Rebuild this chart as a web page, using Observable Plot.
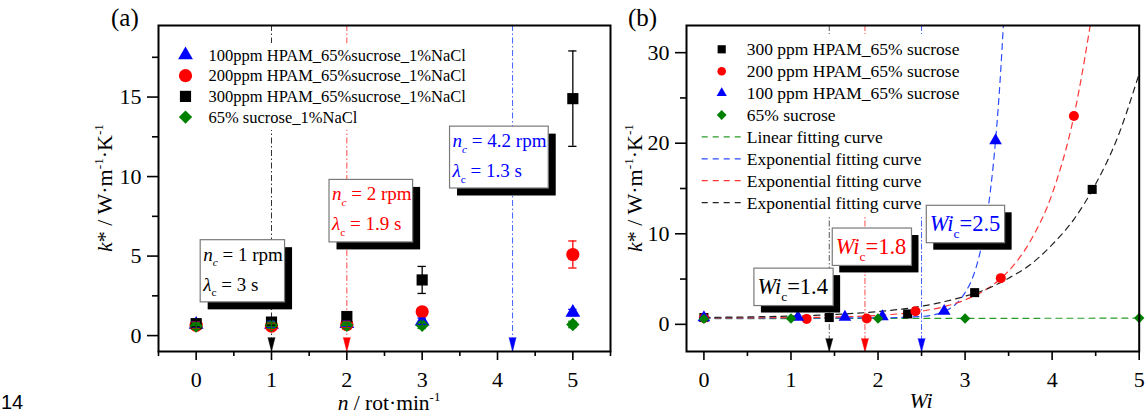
<!DOCTYPE html>
<html><head><meta charset="utf-8">
<script src="https://cdn.jsdelivr.net/npm/d3@7"></script>
<script src="https://cdn.jsdelivr.net/npm/@observablehq/plot@0.6"></script>
<style>
html,body{margin:0;padding:0;background:#fff;}
#wrap{position:relative;width:1146px;height:414px;overflow:hidden;background:#fff;}
#wrap svg{position:absolute;top:0;overflow:visible;}
text{white-space:pre;}
</style></head><body><div id="wrap"></div>
<script>
// ---------------- Panel (a) data ----------------
const nA = [0, 1, 2, 3, 5];
const kA_100 = [0.7, 0.7, 0.75, 0.9, 1.45];
const errA_100 = [0.2, 0.2, 0.2, 0.2, 0.2];
const kA_200 = [0.65, 0.6, 0.7, 1.5, 5.1];
const errA_200 = [0.2, 0.2, 0.2, 0.2, 0.85];
const kA_300 = [0.75, 0.85, 1.2, 3.5, 14.9];
const errA_300 = [0.2, 0.2, 0.2, 0.85, 3.0];
const kA_0 = [0.6, 0.65, 0.65, 0.65, 0.7];
const errA_0 = [0.2, 0.2, 0.2, 0.2, 0.2];
const legendA = ["100ppm HPAM_65%sucrose_1%NaCl", "200ppm HPAM_65%sucrose_1%NaCl", "300ppm HPAM_65%sucrose_1%NaCl", "65% sucrose_1%NaCl"];
const ncA = [1, 2, 4.2];
const ncTextA = ["1", "2", "4.2"];
const lamTextA = ["3", "1.9", "1.3"];
const xTicksA = [0, 1, 2, 3, 4, 5];
const xMinorA = [-0.5, 0.5, 1.5, 2.5, 3.5, 4.5, 5.5];
const yTicksA = [0, 5, 10, 15];
const yMinorA = [2.5, 7.5, 12.5, 17.5];

// ---------------- Panel (b) data ----------------
const wi300 = [0, 1.44, 2.34, 3.11, 4.46];
const k300 = [0.75, 0.75, 1.15, 3.5, 14.9];
const wi200 = [0, 1.18, 1.87, 2.43, 3.41, 4.25];
const k200 = [0.7, 0.6, 0.65, 1.45, 5.1, 23.0];
const wi100 = [0, 1.08, 1.62, 2.05, 2.76, 3.35];
const k100 = [0.75, 0.8, 0.8, 0.85, 1.45, 20.3];
const wi0 = [0, 1, 2, 3, 5];
const k0 = [0.6, 0.65, 0.65, 0.65, 0.7];
// fitted curves, values
const fitLinX = [0, 5];
const fitLinY = [0.63, 0.68];
const fit100X = [0, 1, 2, 2.5, 2.77, 2.9, 3.0, 3.1, 3.2, 3.3, 3.35, 3.4, 3.45];
const fit100Y = [0.68, 0.7, 0.71, 0.87, 1.47, 2.3, 3.5, 5.5, 9.2, 15.5, 20.3, 26.6, 34.8];
const fit200X = [0, 1, 1.5, 2, 2.5, 2.75, 3, 3.25, 3.5, 3.75, 4, 4.25, 4.5];
const fit200Y = [0.71, 0.74, 0.81, 0.99, 1.46, 1.93, 2.7, 3.9, 5.9, 9.2, 14.4, 23.0, 36.8];
const fit300X = [0, 0.5, 1, 1.5, 2, 2.5, 3, 3.25, 3.5, 3.75, 4, 4.25, 4.5, 4.75, 5];
const fit300Y = [0.76, 0.82, 0.91, 1.09, 1.41, 2.0, 3.1, 3.9, 5.1, 6.6, 8.8, 11.6, 15.5, 20.6, 27.7];
const legendBSym = ["300 ppm HPAM_65% sucrose", "200 ppm HPAM_65% sucrose", "100 ppm HPAM_65% sucrose", "65% sucrose"];
const legendBLine = ["Linear fitting curve", "Exponential fitting curve", "Exponential fitting curve", "Exponential fitting curve"];
const wiC = [1.44, 1.85, 2.5];
const wiCText = ["1.4", "1.8", "2.5"];
const xTicksB = [0, 1, 2, 3, 4, 5];
const xMinorB = [0.5, 1.5, 2.5, 3.5, 4.5];
const yTicksB = [0, 10, 20, 30];
const yMinorB = [5, 15, 25];

// ---------------- styles / layout ----------------
const F = '"Liberation Serif","Times New Roman",Times,serif';
const BLUE = "#0000ff", RED = "#ff0000", GREEN = "#008000", BLACK = "#000000";
const critLineA = ["#333333", "#ff4a4a", "#4060ff"];
const critArrowA = [BLACK, RED, BLUE];
const critTextA = [BLACK, RED, BLUE];
const boxA = [[0.06, 1.18, 2.09, 6.0], [1.77, 2.88, 5.86, 9.79], [3.37, 4.68, 9.25, 13.14]];
const critLineB = ["#555555", "#ff4a4a", "#4060ff"];
const critArrowB = [BLACK, RED, BLUE];
const boxB = [[0.58, 1.49, 2.02, 6.15], [1.48, 2.39, 6.45, 10.58], [2.56, 3.46, 8.96, 13.09]];

function series(xs, ys, es) { return xs.map((x, i) => ({x, y: ys[i], e: es ? es[i] : 0})); }
function errorMarks(data, color, half) {
  return [
    Plot.ruleX(data, {x: "x", y1: d => d.y - d.e, y2: d => d.y + d.e, stroke: color, strokeWidth: 1.3}),
    Plot.ruleY(data, {y: d => d.y + d.e, x1: d => d.x - half, x2: d => d.x + half, stroke: color, strokeWidth: 1.3}),
    Plot.ruleY(data, {y: d => d.y - d.e, x1: d => d.x - half, x2: d => d.x + half, stroke: color, strokeWidth: 1.3})
  ];
}
function axes(xt, xm, yt, ym) {
  return [
    Plot.axisX({ticks: xt, tickSize: 9, tickPadding: 11, label: null, tickFormat: d => String(d), strokeWidth: 1.6}),
    Plot.axisX({ticks: xm, tickSize: 5, label: null, tickFormat: () => "", strokeWidth: 1.6}),
    Plot.axisY({ticks: yt, tickSize: 11, tickPadding: 6, label: null, tickFormat: d => String(d), strokeWidth: 1.6}),
    Plot.axisY({ticks: ym, tickSize: 6, label: null, tickFormat: () => "", strokeWidth: 1.6}),
    Plot.frame({stroke: "black", strokeWidth: 2})
  ];
}
const SYM = {triangle: d3.symbolTriangle, circle: d3.symbolCircle, square: d3.symbolSquare, diamond2: d3.symbolDiamond2};

function txt(g, x, y, s, size, extra) {
  const t = g.append("text").attr("x", x).attr("y", y).attr("font-family", F).attr("font-size", size)
    .attr("fill", "black").attr("text-anchor", "start").text(s);
  if (extra) for (const k in extra) t.attr(k, extra[k]);
  return t;
}
function rich(g, x, y, parts, o) {
  const t = g.append("text").attr("x", x).attr("y", y).attr("font-family", F)
    .attr("font-size", o.size).attr("fill", o.color || "black").attr("text-anchor", o.anchor || "start");
  if (o.rotate) t.attr("transform", `rotate(${o.rotate},${x},${y})`);
  let shift = 0;
  for (const p of parts) {
    const s = p.sub ? o.size * 0.3 : p.sup ? -o.size * 0.42 : 0;
    const ts = t.append("tspan").text(p.t);
    if (s - shift !== 0) ts.attr("dy", s - shift);
    shift = s;
    if (p.i) ts.attr("font-style", "italic");
    if (p.sub || p.sup) ts.attr("font-size", o.size * 0.6);
  }
  return t;
}
function drawBox(g, sx, sy, b, off) {
  const X1 = sx(b[0]), X2 = sx(b[1]), Y1 = sy(b[3]), Y2 = sy(b[2]);
  g.append("rect").attr("x", X1 + off).attr("y", Y1 + off).attr("width", X2 - X1).attr("height", Y2 - Y1).attr("fill", "black");
  g.append("rect").attr("x", X1).attr("y", Y1).attr("width", X2 - X1).attr("height", Y2 - Y1)
    .attr("fill", "white").attr("stroke", "#7a7a7a").attr("stroke-width", 1.2);
  return {X1, X2, Y1, Y2};
}
function lin(plot, name) { const s = plot.scale(name); return d3.scaleLinear(s.domain, s.range); }

const wrap = document.getElementById("wrap");

// ================= Panel (a) =================
const A100 = series(nA, kA_100, errA_100), A200 = series(nA, kA_200, errA_200),
      A300 = series(nA, kA_300, errA_300), A0 = series(nA, kA_0, errA_0);
const critA = ncA.map((n, i) => ({n, line: critLineA[i], arrow: critArrowA[i]}));
const plotA = Plot.plot({
  width: 620, height: 414, marginLeft: 158, marginRight: 10, marginTop: 25, marginBottom: 63,
  style: {fontFamily: F, fontSize: "22px", color: "black", background: "transparent"},
  color: {type: "identity"},
  x: {domain: [-0.5, 5.5]},
  y: {domain: [-1, 19.5]},
  marks: [
    Plot.ruleX(critA, {x: "n", stroke: "line", strokeWidth: 1, strokeDasharray: "6,2.5,1.5,2.5"}),
    Plot.dot(A100, {x: "x", y: "y", symbol: "triangle", r: 5.5, fill: BLUE}),
    Plot.dot(A200, {x: "x", y: "y", symbol: "circle", r: 6.6, fill: RED}),
    Plot.dot(A300, {x: "x", y: "y", symbol: "square", r: 6.3, fill: BLACK}),
    Plot.dot(A0, {x: "x", y: "y", symbol: "diamond2", r: 6, fill: GREEN}),
    ...errorMarks(A100, BLUE, 0.055),
    ...errorMarks(A200, RED, 0.055),
    ...errorMarks(A300, BLACK, 0.055),
    ...errorMarks(A0, GREEN, 0.055),
    Plot.vector(critA, {x: "n", frameAnchor: "bottom", length: 14, rotate: 180, anchor: "end", shape: "spike", r: 3.5, fill: "arrow", stroke: "arrow", strokeWidth: 0.5}),
    ...axes(xTicksA, xMinorA, yTicksA, yMinorA)
  ]
});
plotA.style.left = "0px";
wrap.appendChild(plotA);
{
  const sx = lin(plotA, "x"), sy = lin(plotA, "y");
  const g = d3.select(plotA).append("g").attr("text-anchor", "start");
  // legend
  g.append("rect").attr("x", 170).attr("y", 43).attr("width", 300).attr("height", 87).attr("fill", "white").attr("stroke", "none");
  const symA = [["triangle", 5.5, BLUE], ["circle", 6.6, RED], ["square", 6.3, BLACK], ["diamond2", 6, GREEN]];
  legendA.forEach((lab, i) => {
    const y = 55 + i * 20.7;
    g.append("path").attr("d", d3.symbol(SYM[symA[i][0]], Math.PI * symA[i][1] ** 2)())
      .attr("transform", `translate(185.5,${y})`).attr("fill", symA[i][2]);
    txt(g, 208.5, y + 5.6, lab, 16.5);
  });
  // annotation boxes
  boxA.forEach((b, i) => {
    const r = drawBox(g, sx, sy, b, 7.5);
    rich(g, r.X1 + 3, r.Y1 + 21, [{t: "n", i: 1}, {t: "c", i: 1, sub: 1}, {t: " = " + ncTextA[i] + " rpm"}], {size: 19, color: critTextA[i]});
    rich(g, r.X1 + 3, r.Y1 + 51, [{t: "λ", i: 1}, {t: "c", sub: 1}, {t: " = " + lamTextA[i] + " s"}], {size: 19, color: critTextA[i]});
  });
  // axis titles & panel label
  rich(g, 112, 188, [{t: "k", i: 1}, {t: "* / W·m"}, {t: "-1", sup: 1}, {t: "·K"}, {t: "-1", sup: 1}], {size: 22, anchor: "middle", rotate: -90});
  rich(g, 389, 410, [{t: "n", i: 1}, {t: " / rot·min"}, {t: "-1", sup: 1}], {size: 21.5, anchor: "middle"});
  txt(g, 111, 26, "(a)", 25);
  txt(g, 1, 409, "14", 20, {"font-family": '"Liberation Sans",Arial,sans-serif'});
}

// ================= Panel (b) =================
const B300 = series(wi300, k300), B200 = series(wi200, k200), B100 = series(wi100, k100), B0 = series(wi0, k0);
const fLin = series(fitLinX, fitLinY), f100 = series(fit100X, fit100Y), f200 = series(fit200X, fit200Y), f300 = series(fit300X, fit300Y);
const critB = wiC.map((w, i) => ({w, line: critLineB[i], arrow: critArrowB[i]}));
const plotB = Plot.plot({
  width: 526, height: 414, marginLeft: 66, marginRight: 7.3, marginTop: 25, marginBottom: 63,
  style: {fontFamily: F, fontSize: "22px", color: "black", background: "transparent"},
  color: {type: "identity"},
  x: {domain: [-0.2, 5]},
  y: {domain: [-3, 33]},
  marks: [
    Plot.ruleX(critB, {x: "w", stroke: "line", strokeWidth: 1, strokeDasharray: "6,2,1.5,2"}),
    Plot.line(fLin, {x: "x", y: "y", stroke: "#2a9a2a", strokeWidth: 1.2, strokeDasharray: "6,5", clip: true}),
    Plot.line(f100, {x: "x", y: "y", stroke: "#2a4bff", strokeWidth: 1.2, strokeDasharray: "6,5", curve: "monotone-x", clip: true}),
    Plot.line(f200, {x: "x", y: "y", stroke: "#ff3535", strokeWidth: 1.2, strokeDasharray: "6,5", curve: "monotone-x", clip: true}),
    Plot.line(f300, {x: "x", y: "y", stroke: "#222222", strokeWidth: 1.2, strokeDasharray: "6,5", curve: "monotone-x", clip: true}),
    Plot.dot(B300, {x: "x", y: "y", symbol: "square", r: 5.1, fill: BLACK}),
    Plot.dot(B200, {x: "x", y: "y", symbol: "circle", r: 5, fill: RED}),
    Plot.dot(B100, {x: "x", y: "y", symbol: "triangle", r: 4.7, fill: BLUE}),
    Plot.dot(B0, {x: "x", y: "y", symbol: "diamond2", r: 4.7, fill: GREEN}),
    Plot.vector(critB, {x: "w", frameAnchor: "bottom", length: 13, rotate: 180, anchor: "end", shape: "spike", r: 3.5, fill: "arrow", stroke: "arrow", strokeWidth: 0.5}),
    ...axes(xTicksB, xMinorB, yTicksB, yMinorB)
  ]
});
plotB.style.left = "620px";
wrap.appendChild(plotB);
{
  const sx = lin(plotB, "x"), sy = lin(plotB, "y");
  const g = d3.select(plotB).append("g").attr("text-anchor", "start");
  const ox = -620; // svg offset
  g.append("rect").attr("x", 694 + ox).attr("y", 34).attr("width", 272).attr("height", 182).attr("fill", "white").attr("stroke", "none");
  const symB = [["square", 4.6, BLACK], ["circle", 4.3, RED], ["triangle", 3.8, BLUE], ["diamond2", 4.4, GREEN]];
  const lineB = ["#2a9a2a", "#2a4bff", "#ff3535", "#222222"];
  legendBSym.forEach((lab, i) => {
    const y = 49.3 + i * 21.9;
    g.append("path").attr("d", d3.symbol(SYM[symB[i][0]], Math.PI * symB[i][1] ** 2)())
      .attr("transform", `translate(${721.7 + ox},${y})`).attr("fill", symB[i][2]);
    txt(g, 746.7 + ox, y + 6, lab, 17.5);
  });
  legendBLine.forEach((lab, i) => {
    const y = 49.3 + (i + 4) * 21.9;
    g.append("line").attr("x1", 701.7 + ox).attr("x2", 741.7 + ox).attr("y1", y).attr("y2", y)
      .attr("stroke", lineB[i]).attr("stroke-width", 1.2).attr("stroke-dasharray", "6,5");
    txt(g, 746.7 + ox, y + 6, lab, 17.5);
  });
  const cols = [BLACK, RED, BLUE];
  boxB.forEach((b, i) => {
    const r = drawBox(g, sx, sy, b, 7);
    rich(g, r.X1 + 3.5, (r.Y1 + r.Y2) / 2 + 7.5, [{t: "Wi", i: 1}, {t: "c", sub: 1}, {t: "=" + wiCText[i]}], {size: 22.5, color: cols[i]});
  });
  rich(g, 642 + ox, 188, [{t: "k", i: 1}, {t: "* / W·m"}, {t: "-1", sup: 1}, {t: "·K"}, {t: "-1", sup: 1}], {size: 22, anchor: "middle", rotate: -90});
  rich(g, 921 + ox, 408, [{t: "Wi", i: 1}], {size: 22, anchor: "middle"});
  txt(g, 628 + ox, 26, "(b)", 25);
}
</script></body></html>
